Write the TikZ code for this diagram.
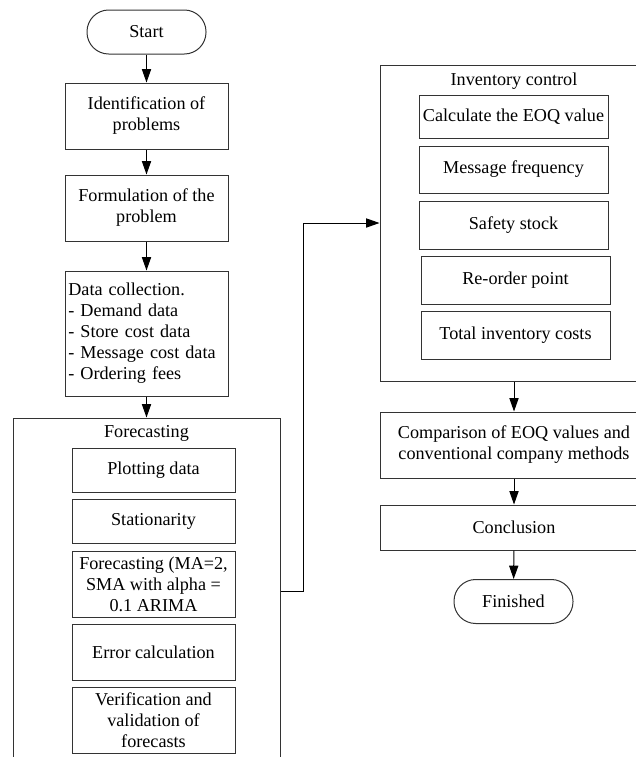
\documentclass[tikz,border=0pt]{standalone}
\usepackage{fontspec}
\setmainfont{Liberation Serif}
\usetikzlibrary{arrows.meta,positioning}
\tikzset{
    process-box/.style = {draw=black!80, line width=0.6pt, rectangle, align=center, inner xsep=2pt, inner ysep=1.5pt, minimum width=97.8pt},
    start-end/.style = {draw=black!80, line width=0.6pt, rectangle, rounded corners=13pt, minimum width=71.4pt, minimum height=26.4pt},
    group-box/.style = {draw=black!80, line width=0.6pt, rectangle, inner sep=0pt},
    group-title/.style = {inner sep=0pt, anchor=north},
    flow-arrow/.style = {draw=black, line width=0.6pt, -{Triangle[length=8pt,width=5.5pt]}},
}

\begin{document}
\begin{tikzpicture}[x=0.6pt, y=-0.6pt, font=\fontsize{10.9}{12.6}\selectfont]
\useasboundingbox (0,0) rectangle (636,757);
\clip (0,0) rectangle (636,757);

% left column
\node[start-end] (start) at (146.5,32) {Start};
\node[process-box, minimum height=39.6pt] (ident) at (146.5,116) {Identification of\\problems};
\node[process-box, minimum height=39.6pt] (formul) at (146.5,208) {Formulation of the\\problem};
\node[process-box, minimum height=75pt, text width=93.8pt, align=left] (datacol) at (146.5,333.5)
    {Data collection.\\- Demand data\\- Store cost data\\- Message cost data\\- Ordering fees};

% forecasting group
\node[group-box, minimum width=160.2pt, minimum height=207.6pt] (forecast) at (146.5,591) {};
\node[group-title, below=4.8pt] at (forecast.north) {Forecasting};
\node[process-box, minimum height=26.4pt] (plot) at (153.5,470) {Plotting data};
\node[process-box, minimum height=26.4pt] (station) at (153.5,521) {Stationarity};
\node[process-box, minimum height=39.6pt] (fcast) at (153.5,584) {Forecasting (MA=2,\\SMA with alpha =\\0.1 ARIMA};
\node[process-box, minimum height=33.6pt] (error) at (153.5,652) {Error calculation};
\node[process-box, minimum height=39.6pt] (verify) at (153.5,720) {Verification and\\validation of\\forecasts};

% inventory group
\node[group-box, minimum width=160.8pt, minimum height=189.6pt] (inventory) at (514,223) {};
\node[group-title, below=4.8pt] at (inventory.north) {Inventory control};
\node[process-box, minimum width=113.4pt, minimum height=25.8pt] (eoq) at (513.5,116.5) {Calculate the EOQ value};
\node[process-box, minimum width=113.4pt, minimum height=28.2pt] (msgfreq) at (513.5,169.5) {Message frequency};
\node[process-box, minimum width=113.4pt, minimum height=28.8pt] (safety) at (513.5,225) {Safety stock};
\node[process-box, minimum width=113.4pt, minimum height=28.8pt] (reorder) at (515.5,280) {Re-order point};
\node[process-box, minimum width=113.4pt, minimum height=28.8pt] (totcost) at (515.5,335) {Total inventory costs};

% right column
\node[process-box, minimum width=160.8pt, minimum height=39.6pt] (compare) at (514,445) {Comparison of EOQ values and\\conventional company methods};
\node[process-box, minimum width=160.8pt, minimum height=27pt] (concl) at (514,527.5) {Conclusion};
\node[start-end] (finish) at (513.5,601.5) {Finished};

% arrows
\draw[flow-arrow] (start) -- (ident);
\draw[flow-arrow] (ident) -- (formul);
\draw[flow-arrow] (formul) -- (datacol);
\draw[flow-arrow] (datacol) -- (forecast);
\draw[flow-arrow] (forecast.east) -- ++(23,0) |- (inventory.west);
\draw[flow-arrow] (inventory) -- (compare);
\draw[flow-arrow] (compare) -- (concl);
\draw[flow-arrow] (concl) -- (finish);
\end{tikzpicture}
\end{document}
